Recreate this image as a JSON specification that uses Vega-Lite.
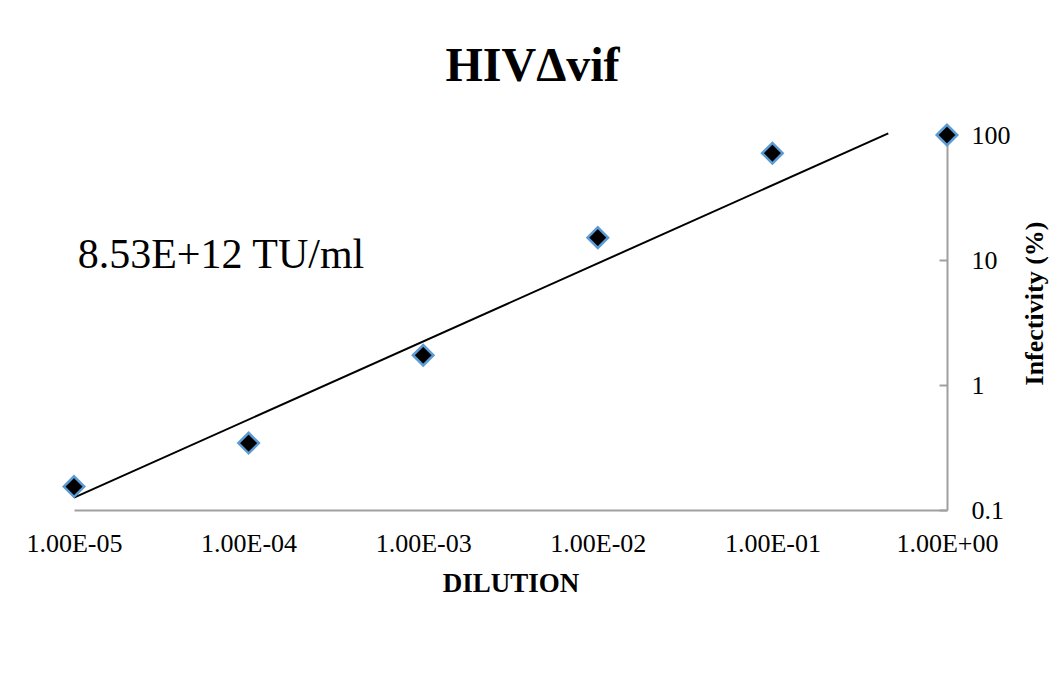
{
  "$schema": "https://vega.github.io/schema/vega-lite/v6.json",
  "width": 873,
  "height": 375,
  "autosize": {"type": "none"},
  "padding": {"left": 74, "top": 135, "right": 105, "bottom": 169},
  "background": "white",
  "config": {"view": {"stroke": null}, "font": "Liberation Serif"},
  "title": {
    "text": "HIVΔvif",
    "font": "Liberation Serif",
    "fontSize": 48,
    "fontWeight": "bold",
    "color": "black",
    "anchor": "middle",
    "frame": "group",
    "baseline": "alphabetic",
    "offset": -9,
    "dx": 22
  },
  "datasets": {
    "points": [
      {"dilution": 0.00001, "infectivity": 0.154},
      {"dilution": 0.0001, "infectivity": 0.343},
      {"dilution": 0.001, "infectivity": 1.73},
      {"dilution": 0.01, "infectivity": 15.1},
      {"dilution": 0.1, "infectivity": 71.5},
      {"dilution": 1, "infectivity": 100}
    ],
    "trend": [
      {"dilution": 0.00001, "infectivity": 0.1255},
      {"dilution": 0.461, "infectivity": 103}
    ],
    "note": [
      {"dilution": 0.0000105, "infectivity": 8.6, "label": "8.53E+12 TU/ml"}
    ]
  },
  "encoding": {
    "x": {
      "field": "dilution",
      "type": "quantitative",
      "scale": {"type": "log", "domain": [0.00001, 1], "nice": false},
      "axis": {
        "orient": "bottom",
        "values": [0.00001, 0.0001, 0.001, 0.01, 0.1, 1],
        "labelExpr": "'1.00E' + (round(log(datum.value)/LN10) < 0 ? '-0' + abs(round(log(datum.value)/LN10)) : '+00')",
        "labelFlush": false,
        "labelOverlap": false,
        "labelBound": false,
        "ticks": false,
        "grid": false,
        "domainColor": "#a0a0a0",
        "domainWidth": 2,
        "labelFont": "Liberation Serif",
        "labelFontSize": 26,
        "labelColor": "black",
        "labelPadding": 20,
        "title": "DILUTION",
        "titleFont": "Liberation Serif",
        "titleFontSize": 27,
        "titleFontWeight": "bold",
        "titleColor": "black",
        "titlePadding": 14
      }
    },
    "y": {
      "field": "infectivity",
      "type": "quantitative",
      "scale": {"type": "log", "domain": [0.1, 100], "nice": false},
      "axis": {
        "orient": "right",
        "values": [0.1, 1, 10, 100],
        "format": "~g",
        "grid": false,
        "ticks": true,
        "tickSize": -8,
        "tickColor": "#a0a0a0",
        "tickWidth": 2,
        "domainColor": "#a0a0a0",
        "domainWidth": 2,
        "labelFont": "Liberation Serif",
        "labelFontSize": 26,
        "labelColor": "black",
        "labelPadding": 32,
        "labelBaseline": "middle",
        "title": "Infectivity (%)",
        "titleFont": "Liberation Serif",
        "titleFontSize": 26,
        "titleFontWeight": "bold",
        "titleColor": "black",
        "titleAngle": 270,
        "titleAlign": "center",
        "titleBaseline": "middle",
        "titleX": 87,
        "titleY": 168
      }
    }
  },
  "layer": [
    {
      "data": {"name": "trend"},
      "mark": {"type": "line", "color": "black", "strokeWidth": 2}
    },
    {
      "data": {"name": "points"},
      "mark": {"type": "point", "shape": "diamond", "filled": true, "fill": "black", "stroke": "#5b9bd5", "strokeWidth": 2.5, "size": 420, "opacity": 1, "clip": false}
    },
    {
      "data": {"name": "note"},
      "mark": {"type": "text", "align": "left", "baseline": "alphabetic", "font": "Liberation Serif", "fontSize": 42, "color": "black"},
      "encoding": {"text": {"field": "label"}}
    }
  ]
}
